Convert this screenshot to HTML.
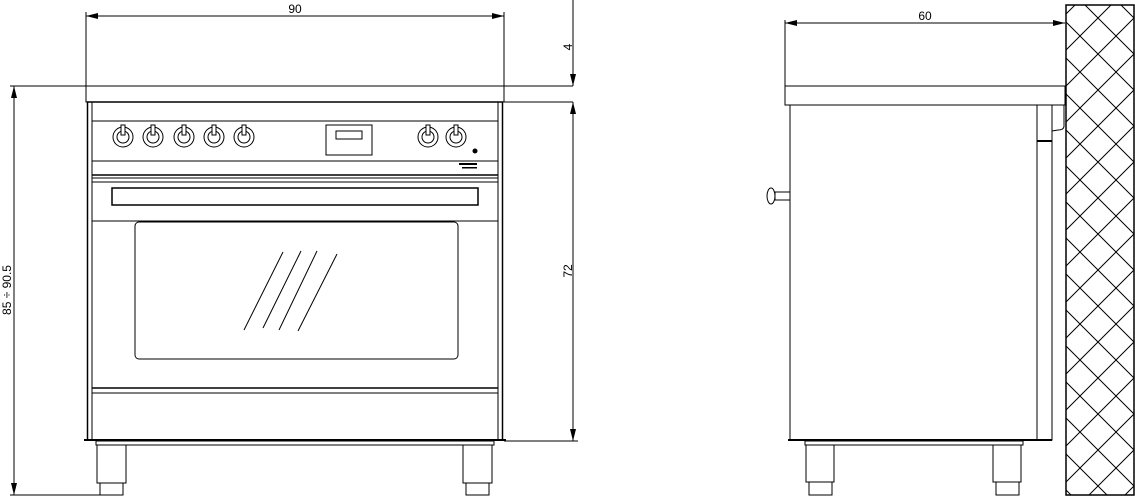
<!DOCTYPE html>
<html><head><style>html,body{margin:0;padding:0;background:#fff}svg{display:block}</style></head>
<body>
<svg width="1135" height="499" viewBox="0 0 1135 499" xmlns="http://www.w3.org/2000/svg" font-family="Liberation Sans, sans-serif" font-size="12">
<defs>
<marker id="a" markerWidth="12" markerHeight="6" refX="12" refY="3" orient="auto-start-reverse" markerUnits="userSpaceOnUse"><path d="M0,0 L12,3 L0,6z" fill="#000"/></marker>
<pattern id="h" width="36" height="36" patternUnits="userSpaceOnUse">
<path d="M0,36 L36,0 M-9,9 L9,-9 M27,45 L45,27 M0,0 L36,36 M18,-18 L54,18 M-18,18 L18,54" stroke="#000" stroke-width="1"/>
</pattern>
</defs>
<g stroke="#000" fill="none" stroke-width="1">
<line x1="86" y1="16" x2="504" y2="16" marker-start="url(#a)" marker-end="url(#a)"/>
<line x1="86" y1="12" x2="86" y2="86"/><line x1="504" y1="12" x2="504" y2="86"/>
<line x1="573" y1="0" x2="573" y2="86" marker-end="url(#a)"/>
<line x1="504" y1="86" x2="573" y2="86"/><line x1="504" y1="102" x2="573" y2="102"/>
<line x1="573" y1="102" x2="573" y2="441" marker-start="url(#a)" marker-end="url(#a)"/>
<line x1="504" y1="441" x2="578" y2="441"/>
<line x1="14" y1="86" x2="14" y2="495" marker-start="url(#a)" marker-end="url(#a)"/>
<line x1="10" y1="86" x2="86" y2="86"/><line x1="10" y1="495" x2="106" y2="495"/>
<rect x="86" y="86" width="418" height="16"/>
<rect x="87.5" y="102" width="415" height="338" stroke-width="1.5"/>
<line x1="92" y1="102" x2="92" y2="440"/><line x1="498" y1="102" x2="498" y2="440"/>
<line x1="92" y1="121" x2="498" y2="121"/><line x1="92" y1="161" x2="498" y2="161"/>
<line x1="92" y1="175" x2="498" y2="175" stroke-width="1.5"/><line x1="92" y1="178" x2="498" y2="178"/>
<line x1="92" y1="182" x2="498" y2="182"/>
<rect x="112" y="188" width="366" height="17" stroke-width="1.5"/>
<line x1="92" y1="221" x2="498" y2="221"/>
<rect x="135" y="222" width="323" height="137" rx="4"/>
<line x1="283" y1="252" x2="244" y2="330"/><line x1="301" y1="251" x2="263" y2="328"/>
<line x1="317" y1="251" x2="279" y2="330"/><line x1="337" y1="254" x2="298" y2="331"/>
<line x1="92" y1="388" x2="498" y2="388" stroke-width="1.5"/><line x1="92" y1="393" x2="498" y2="393"/>
<line x1="84" y1="440" x2="506" y2="440" stroke-width="2"/>
<rect x="96" y="441" width="398" height="4"/>
<g>
<circle cx="123" cy="137" r="10"/><circle cx="123" cy="137" r="6"/><rect x="121" y="125" width="4" height="10" fill="#fff"/>
<circle cx="153" cy="137" r="10"/><circle cx="153" cy="137" r="6"/><rect x="151" y="125" width="4" height="10" fill="#fff"/>
<circle cx="184" cy="137" r="10"/><circle cx="184" cy="137" r="6"/><rect x="182" y="125" width="4" height="10" fill="#fff"/>
<circle cx="214" cy="137" r="10"/><circle cx="214" cy="137" r="6"/><rect x="212" y="125" width="4" height="10" fill="#fff"/>
<circle cx="244" cy="137" r="10"/><circle cx="244" cy="137" r="6"/><rect x="242" y="125" width="4" height="10" fill="#fff"/>
<circle cx="428" cy="137" r="10"/><circle cx="428" cy="137" r="6"/><rect x="426" y="125" width="4" height="10" fill="#fff"/>
<circle cx="456" cy="137" r="10"/><circle cx="456" cy="137" r="6"/><rect x="454" y="125" width="4" height="10" fill="#fff"/>
</g>
<rect x="326" y="125" width="46" height="30"/><rect x="336" y="131" width="26" height="8"/>
<circle cx="475" cy="151" r="2" fill="#000"/>
<rect x="459" y="163" width="18" height="2" fill="#000" stroke="none"/><rect x="462" y="167" width="15" height="1.5" fill="#000" stroke="none"/>
<rect x="97" y="445" width="29" height="38"/><rect x="100" y="483" width="23" height="12"/>
<rect x="463" y="445" width="29" height="38"/><rect x="466" y="483" width="23" height="12"/>
<line x1="785" y1="23" x2="1065" y2="23" marker-start="url(#a)" marker-end="url(#a)"/>
<line x1="785" y1="20" x2="785" y2="86"/>
<rect x="785" y="86" width="280" height="19"/>
<rect x="790" y="105" width="247" height="335"/>
<rect x="1037" y="105" width="15" height="36"/>
<line x1="1037" y1="141" x2="1052" y2="141" stroke-width="2"/>
<path d="M1052,105 L1064,105 L1064,126 Q1064,130 1058,130 L1052,131 M1052,141 L1052,440 L1037,440"/>
<ellipse cx="771" cy="196" rx="4" ry="8"/><rect x="775" y="192" width="15" height="8"/>
<line x1="788" y1="440" x2="1052" y2="440" stroke-width="2"/>
<rect x="805" y="441" width="218" height="4"/>
<rect x="806" y="445" width="28" height="37"/><rect x="809" y="482" width="23" height="13"/>
<rect x="993" y="445" width="28" height="37"/><rect x="996" y="482" width="23" height="13"/>
<rect x="1066" y="5" width="68" height="490" fill="url(#h)" stroke-width="1.5"/>
</g>
<g fill="#000" text-anchor="middle">
<text x="295" y="13">90</text>
<text x="925" y="20">60</text>
<text transform="translate(572,47) rotate(-90)">4</text>
<text transform="translate(572,271) rotate(-90)">72</text>
<text transform="translate(11,290) rotate(-90)">85 ÷ 90.5</text>
</g>
</svg>
</body></html>
